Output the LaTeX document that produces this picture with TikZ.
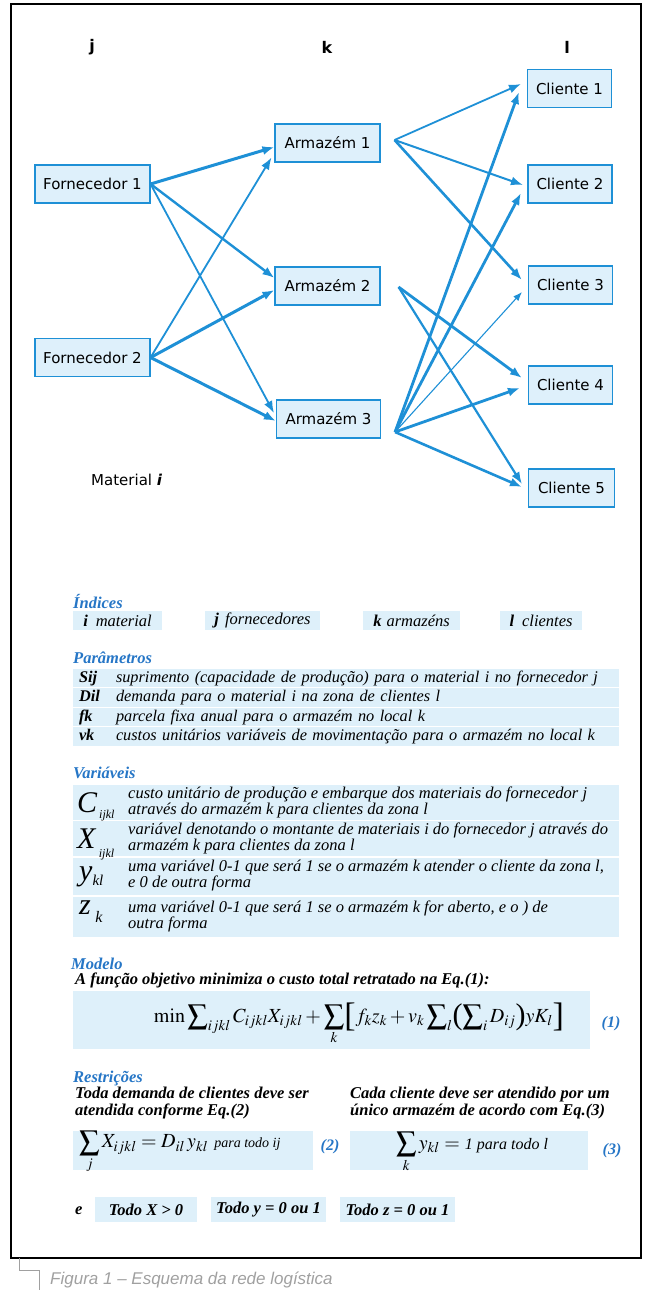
\documentclass[tikz,border=0pt]{standalone}
\usepackage{mathptmx}
\usepackage{fontspec}
\setmainfont{Liberation Serif}
\newfontfamily\netfont{DejaVu Sans}
\newfontfamily\capfont{Liberation Sans}
\usepackage{tikz}
\usetikzlibrary{arrows.meta}
\definecolor{netblue}{RGB}{30,144,214}
\definecolor{boxfill}{RGB}{222,240,251}
\definecolor{headblue}{RGB}{38,118,198}
\definecolor{rowfill}{RGB}{222,240,250}
\definecolor{capgray}{RGB}{160,160,160}
\newcommand{\fsz}[1]{\fontsize{#1}{#1}\selectfont}
\newcommand{\brkopen}[2][34]{\mathopen{\vcenter{\hbox{\upshape\fsz{#1}#2}}}}
\newcommand{\brkclose}[2][34]{\mathclose{\vcenter{\hbox{\upshape\fsz{#1}#2}}}}

\begin{document}
\begin{tikzpicture}[x=1pt, y=-1pt,
            box/.style={draw=netblue, fill=boxfill, line width=1.1pt, font=\netfont\fsz{15}, minimum height=38pt, inner sep=0pt},
            lbl/.style={inner sep=0pt, font=\netfont\bfseries\fsz{16}},
            arrow/.style={-{Latex[length=12pt,width=9pt]}, draw=netblue, line width=#1},
            arrow/.default=1.8pt,
            thinarrow/.style={-{Latex[length=9pt,width=7pt]}, draw=netblue, line width=1.1pt},
            head/.style={anchor=west, inner sep=0pt, text=headblue, font=\bfseries\itshape\fsz{16.5}},
            sub/.style={anchor=west, inner sep=0pt, align=left, font=\bfseries\itshape\fontsize{16.5}{17}\selectfont},
            tag/.style={fill=rowfill, inner sep=0pt, minimum height=19pt, font=\itshape\fsz{16.5}},
            prow/.style={fill=rowfill, inner xsep=6pt, inner ysep=0pt, minimum height=18.5pt, text width=534pt, font=\itshape\fsz{16.3}},
            vrow/.style={fill=rowfill, minimum width=546pt, inner sep=0pt},
            vsym/.style={anchor=base west, inner sep=0pt, font=\itshape\fsz{30}},
            vtxt/.style={anchor=west, inner sep=0pt, align=left, font=\itshape\fontsize{16.5}{16}\selectfont},
            eqbox/.style={fill=rowfill, inner sep=0pt},
            eqno/.style={inner sep=0pt, text=headblue, font=\bfseries\itshape\fsz{16}}
        ]
        \useasboundingbox (0,0) rectangle (650,1301);
        \draw[line width=1.2pt] (11,4) rectangle (641,1258);

        \node[lbl] (colj) at (92,47) {j};
        \node[lbl] (colk) at (327,47) {k};
        \node[lbl] (coll) at (567,47) {l};

        \node[box, minimum width=115pt] (forn1) at (92.5,184) {Fornecedor 1};
        \node[box, minimum width=115pt] (forn2) at (92.5,357.5) {Fornecedor 2};
        \node[box, minimum width=105pt] (arm1) at (327.5,143) {Armazém 1};
        \node[box, minimum width=105pt] (arm2) at (327.5,286) {Armazém 2};
        \node[box, minimum width=104pt] (arm3) at (328.5,419) {Armazém 3};
        \node[box, minimum width=84pt] (cli1) at (569.5,88.5) {Cliente 1};
        \node[box, minimum width=84pt] (cli2) at (570,184) {Cliente 2};
        \node[box, minimum width=84pt] (cli3) at (570.5,285) {Cliente 3};
        \node[box, minimum width=84pt] (cli4) at (570.5,385) {Cliente 4};
        \node[box, minimum width=86pt] (cli5) at (571.5,488) {Cliente 5};
        \node[anchor=west, inner sep=0pt, font=\netfont\fsz{15}] (mat) at (91,480) {Material \textbf{\textit{i}}};

        \coordinate (fan1) at ([shift={(14,-3)}]arm1.east);
        \coordinate (fan2) at ([shift={(18,1)}]arm2.east);
        \coordinate (fan3) at ([shift={(14,13)}]arm3.east);

        \draw[arrow=3pt] (forn1.east) -- ([shift={(0,4)}]arm1.west);
        \draw[arrow=2.4pt] (forn1.east) -- ([shift={(0,-8)}]arm2.west);
        \draw[arrow=1.8pt] (forn1.east) -- ([shift={(-2,-6)}]arm3.west);
        \draw[arrow=1.8pt] (forn2.east) -- ([shift={(-3,-5)}]arm1.south west);
        \draw[arrow=3pt] (forn2.east) -- ([shift={(0,4)}]arm2.west);
        \draw[arrow=3pt] (forn2.east) -- ([shift={(0,2)}]arm3.west);

        \draw[arrow=1.8pt] (fan1) -- ([shift={(-6,-4.5)}]cli1.west);
        \draw[arrow=2pt] (fan1) -- ([shift={(-4.5,1)}]cli2.west);
        \draw[arrow=2.6pt] (fan1) -- ([shift={(-6,-5)}]cli3.west);
        \draw[arrow=2.8pt] (fan2) -- ([shift={(-6,-7)}]cli4.west);
        \draw[arrow=2.2pt] (fan2) -- ([shift={(-6,-4)}]cli5.west);
        \draw[arrow=2.8pt] (fan3) -- ([shift={(-8,3.5)}]cli1.west);
        \draw[arrow=2.8pt] (fan3) -- ([shift={(-6.5,9)}]cli2.west);
        \draw[thinarrow] (fan3) -- ([shift={(-6,7)}]cli3.west);
        \draw[arrow=2.8pt] (fan3) -- ([shift={(-8,3)}]cli4.west);
        \draw[arrow=2.6pt] (fan3) -- ([shift={(-6,-1)}]cli5.west);

        \node[head] (hind) at (73,601) {Índices};
        \node[tag, minimum width=89pt] (tagi) at (117.5,620.5) {\textbf{i}\hspace{8pt}material};
        \node[tag, minimum width=115pt] (tagj) at (262.5,620.5) {\textbf{j}\hspace{6pt}fornecedores};
        \node[tag, minimum width=97pt] (tagk) at (411.5,620.5) {\textbf{k}\hspace{5pt}armazéns};
        \node[tag, minimum width=82pt] (tagl) at (541,620.5) {\textbf{l}\hspace{8pt}clientes};

        \node[head] (hpar) at (73,658) {Parâmetros};
        \node[prow] (psij) at (346,678) {\makebox[37pt][l]{\bfseries Sij}suprimento (capacidade de produção) para o material i no fornecedor j};
        \node[prow] (pdil) at (346,697.5) {\makebox[37pt][l]{\bfseries Dil}demanda para o material i na zona de clientes l};
        \node[prow] (pfk) at (346,717) {\makebox[37pt][l]{\bfseries fk}parcela fixa anual para o armazém no local k};
        \node[prow] (pvk) at (346,736.5) {\makebox[37pt][l]{\bfseries vk}custos unitários variáveis de movimentação para o armazém no local k};

        \node[head] (hvar) at (73,773) {Variáveis};
        \node[vrow, minimum height=35pt] (vrc) at (346,802.5) {};
        \node[vrow, minimum height=35pt] (vrx) at (346,838.5) {};
        \node[vrow, minimum height=37pt] (vry) at (346,876) {};
        \node[vrow, minimum height=40pt] (vrz) at (346,916.5) {};
        \node[vsym] (symc) at (77,812) {C\raisebox{-6pt}{\fsz{12}\,ijkl}};
        \node[vsym] (symx) at (77,848) {X\raisebox{-9pt}{\fsz{12}\;ijkl}};
        \node[vsym] (symy) at (79,880) {y\raisebox{-5pt}{\fsz{15}kl}};
        \node[vsym] (symz) at (79,914) {z\raisebox{-8pt}{\fsz{16}\;k}};
        \node[vtxt] (txtc) at (128,802.5) {custo unitário de produção e embarque dos materiais do fornecedor j\\através do armazém k para clientes da zona l};
        \node[vtxt] (txtx) at (128,838.5) {variável denotando o montante de materiais i do fornecedor j através do\\armazém k para clientes da zona l};
        \node[vtxt] (txty) at (128,876) {uma variável 0-1 que será 1 se o armazém k atender o cliente da zona l,\\e 0 de outra forma};
        \node[vtxt] (txtz) at (128,916.5) {uma variável 0-1 que será 1 se o armazém k for aberto, e o ) de\\outra forma};

        \node[head] (hmod) at (71,964) {Modelo};
        \node[sub] (smod) at (75,980) {A função objetivo minimiza o custo total retratado na Eq.(1):};
        \node[eqbox, minimum width=517pt, minimum height=58pt] (eqa) at (331.5,1020) {};
        \node[inner sep=0pt, font=\fsz{20}] (matha) at (359,1024) {$\displaystyle\min \sum\nolimits_{ijkl} C_{ijkl} X_{ijkl} + \sum_{k}\brkopen{[}f_k z_k + v_k \sum\nolimits_{l}\brkopen[30]{(}\sum\nolimits_{i} D_{ij}\brkclose[30]{)} yK_{l}\brkclose{]}$};
        \node[eqno] (numa) at (611,1024) {(1)};

        \node[head] (hres) at (73,1079) {Restrições};
        \node[sub] (sresa) at (75,1103.5) {Toda demanda de clientes deve ser\\atendida conforme Eq.(2)};
        \node[sub] (sresb) at (350,1103.5) {Cada cliente deve ser atendido por um\\único armazém de acordo com Eq.(3)};
        \node[eqbox, minimum width=240pt, minimum height=39pt] (eqb) at (193,1150.5) {};
        \node[anchor=west, inner sep=0pt, font=\fsz{20}] (mathb) at (79,1152) {$\displaystyle\sum_{j} X_{ijkl} = D_{il}\,y_{kl}$\hspace{6pt}{\itshape\fsz{14}para todo ij}};
        \node[eqno] (numb) at (330,1147) {(2)};
        \node[eqbox, minimum width=238pt, minimum height=39pt] (eqc) at (469,1150.5) {};
        \node[inner sep=0pt, font=\fsz{20}] (mathc) at (472,1152) {$\displaystyle\sum_{k} y_{kl} =$\ {\itshape\fsz{16}1 para todo l}};
        \node[eqno] (numc) at (612,1151) {(3)};

        \node[sub] (conj) at (75,1211) {e};
        \node[tag, minimum width=102pt, minimum height=25pt, font=\bfseries\itshape\fsz{16.5}] (allx) at (146,1209.5) {Todo X > 0};
        \node[tag, minimum width=115pt, minimum height=25pt, font=\bfseries\itshape\fsz{16.5}] (ally) at (268.5,1209.5) {Todo y = 0 ou 1};
        \node[tag, minimum width=115pt, minimum height=25pt, font=\bfseries\itshape\fsz{16.5}] (allz) at (397.5,1209.5) {Todo z = 0 ou 1};

        \draw[capgray, line width=0.8pt] (19,1258) -- (19,1270) -- (39,1270) -- (39,1290);
        \node[anchor=west, inner sep=0pt, text=capgray, font=\capfont\itshape\fsz{17}] (caption) at (50,1280) {Figura 1 – Esquema da rede logística};
        \end{tikzpicture}
\end{document}
